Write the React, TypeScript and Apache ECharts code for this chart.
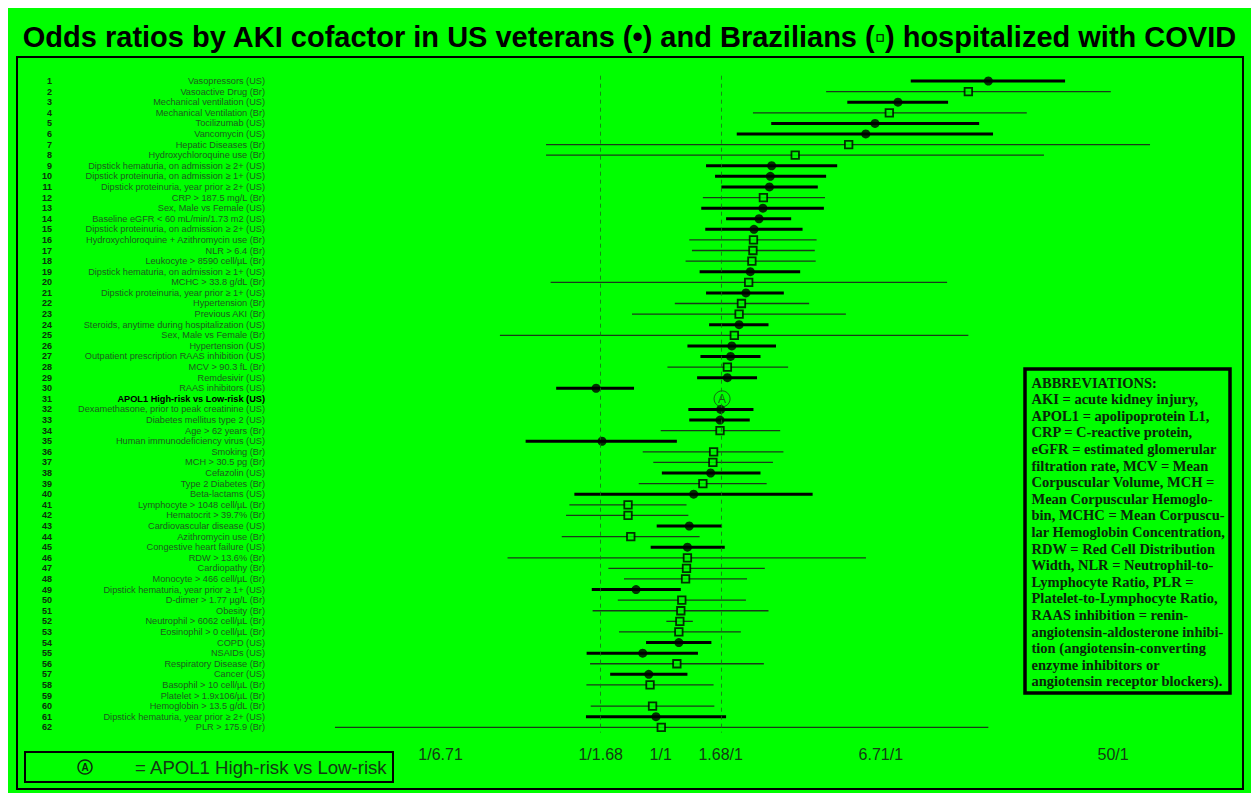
import React, { useEffect, useRef } from 'react';
import * as echarts from 'echarts';

// ---------- DATA ----------
const rowLabels: string[] = [
  'Vasopressors (US)',
  'Vasoactive Drug (Br)',
  'Mechanical ventilation (US)',
  'Mechanical Ventilation (Br)',
  'Tocilizumab (US)',
  'Vancomycin (US)',
  'Hepatic Diseases (Br)',
  'Hydroxychloroquine use (Br)',
  'Dipstick hematuria, on admission ≥ 2+ (US)',
  'Dipstick proteinuria, on admission ≥ 1+ (US)',
  'Dipstick proteinuria, year prior ≥ 2+ (US)',
  'CRP > 187.5 mg/L (Br)',
  'Sex, Male vs Female (US)',
  'Baseline eGFR < 60 mL/min/1.73 m2 (US)',
  'Dipstick proteinuria, on admission ≥ 2+ (US)',
  'Hydroxychloroquine + Azithromycin use (Br)',
  'NLR > 6.4 (Br)',
  'Leukocyte > 8590 cell/µL (Br)',
  'Dipstick hematuria, on admission ≥ 1+ (US)',
  'MCHC > 33.8 g/dL (Br)',
  'Dipstick proteinuria, year prior ≥ 1+ (US)',
  'Hypertension (Br)',
  'Previous AKI (Br)',
  'Steroids, anytime during hospitalization (US)',
  'Sex, Male vs Female (Br)',
  'Hypertension (US)',
  'Outpatient prescription RAAS inhibition (US)',
  'MCV > 90.3 fL (Br)',
  'Remdesivir (US)',
  'RAAS inhibitors (US)',
  'APOL1 High-risk vs Low-risk (US)',
  'Dexamethasone, prior to peak creatinine (US)',
  'Diabetes mellitus type 2 (US)',
  'Age > 62 years (Br)',
  'Human immunodeficiency virus (US)',
  'Smoking (Br)',
  'MCH > 30.5 pg (Br)',
  'Cefazolin (US)',
  'Type 2 Diabetes (Br)',
  'Beta-lactams (US)',
  'Lymphocyte > 1048 cell/µL (Br)',
  'Hematocrit > 39.7% (Br)',
  'Cardiovascular disease (US)',
  'Azithromycin use (Br)',
  'Congestive heart failure (US)',
  'RDW > 13.6% (Br)',
  'Cardiopathy (Br)',
  'Monocyte > 466 cell/µL (Br)',
  'Dipstick hematuria, year prior ≥ 1+ (US)',
  'D-dimer > 1.77 µg/L (Br)',
  'Obesity (Br)',
  'Neutrophil > 6062 cell/µL (Br)',
  'Eosinophil > 0 cell/µL (Br)',
  'COPD (US)',
  'NSAIDs (US)',
  'Respiratory Disease (Br)',
  'Cancer (US)',
  'Basophil > 10 cell/µL (Br)',
  'Platelet > 1.9x106/µL (Br)',
  'Hemoglobin > 13.5 g/dL (Br)',
  'Dipstick hematuria, year prior ≥ 2+ (US)',
  'PLR > 175.9 (Br)',
];

const oddsRatio: (number | null)[] = [
  17.0, 14.3, 7.78, 7.22, 6.38, 5.89, 5.08, 3.20, 2.61, 2.58,
  2.56, 2.43, 2.42, 2.34, 2.24, 2.23, 2.22, 2.20, 2.17, 2.14,
  2.09, 2.01, 1.97, 1.97, 1.89, 1.85, 1.83, 1.78, 1.78, 0.572,
  1.70, 1.68, 1.67, 1.67, 0.602, 1.58, 1.57, 1.54, 1.44, 1.33,
  0.754, 0.754, 1.28, 0.772, 1.26, 1.26, 1.25, 1.24, 0.808, 1.20,
  1.19, 1.18, 1.17, 1.17, 0.856, 1.15, 0.902, 0.912, null, 0.932,
  0.960, 1.005,
];

const ciLower: (number | null)[] = [
  8.69, 4.18, 5.02, 2.22, 2.60, 1.93, 0.371, 0.371, 1.48, 1.60,
  1.69, 1.44, 1.42, 1.76, 1.47, 1.28, 1.31, 1.24, 1.40, 0.386,
  1.48, 1.13, 0.780, 1.52, 0.249, 1.26, 1.41, 1.06, 1.37, 0.405,
  null, 1.27, 1.28, 1.00, 0.311, 0.856, 0.938, 1.01, 0.827, 0.474,
  0.454, 0.441, 0.966, 0.425, 0.917, 0.266, 0.636, 0.728, 0.551, 0.690,
  0.555, 1.05, 0.697, 0.881, 0.527, 0.543, 0.646, 0.526, null, 0.546,
  0.524, 0.0598,
];

const ciUpper: (number | null)[] = [
  33.0, 49.0, 12.0, 23.7, 15.7, 17.7, 68.8, 27.5, 4.60, 4.18,
  3.89, 4.14, 4.10, 3.09, 3.41, 3.85, 3.79, 3.82, 3.34, 11.9,
  2.90, 3.61, 4.96, 2.54, 14.3, 2.71, 2.37, 3.01, 2.30, 0.794,
  null, 2.23, 2.16, 2.81, 1.15, 2.89, 2.64, 2.37, 2.50, 3.72,
  1.25, 1.27, 1.70, 1.40, 1.74, 5.90, 2.46, 2.11, 1.19, 2.09,
  2.54, 1.32, 2.00, 1.55, 1.38, 2.44, 1.26, 1.58, null, 1.59,
  1.76, 17.0,
];

const apolRowIndex = 30;
const tickValues = [1 / 6.71, 1 / 1.68, 1, 1.68, 6.71, 50];
const tickLabels = ['1/6.71', '1/1.68', '1/1', '1.68/1', '6.71/1', '50/1'];
const referenceLines = [1 / 1.68, 1.68];

const titleText =
  'Odds ratios by AKI cofactor in US veterans (•) and Brazilians (▫) hospitalized with COVID';
const legendText = '= APOL1 High-risk vs Low-risk';
const abbreviationLines = [
  'ABBREVIATIONS:',
  'AKI = acute kidney injury,',
  'APOL1 = apolipoprotein L1,',
  'CRP = C-reactive protein,',
  'eGFR = estimated glomerular',
  'filtration rate, MCV = Mean',
  'Corpuscular Volume, MCH =',
  'Mean Corpuscular Hemoglo-',
  'bin, MCHC = Mean Corpuscu-',
  'lar Hemoglobin Concentration,',
  'RDW = Red Cell Distribution',
  'Width, NLR = Neutrophil-to-',
  'Lymphocyte Ratio, PLR =',
  'Platelet-to-Lymphocyte Ratio,',
  'RAAS inhibition = renin-',
  'angiotensin-aldosterone inhibi-',
  'tion (angiotensin-converting',
  'enzyme inhibitors or',
  'angiotensin receptor blockers).',
];

// ---------- LAYOUT ----------
const W = 1243;
const H = 785;
const GRID_LEFT = 262;
const GRID_RIGHT = 11;
const GRID_TOP = 67.7;
const GRID_BOTTOM = 60.4;
const X_ONE = 652.7; // pixel of OR = 1
const PX_PER_LN = 115.65;
const X_MIN = (GRID_LEFT - X_ONE) / PX_PER_LN;
const X_MAX = (W - GRID_RIGHT - X_ONE) / PX_PER_LN;

const SANS = '"Liberation Sans", Arial, "DejaVu Sans", sans-serif';
const SERIF = '"Liberation Serif", "Times New Roman", "DejaVu Serif", serif';
const GREEN = '#00ff00';

function buildOption() {
  const ln = Math.log;
  const usCI: number[][] = [];
  const brCI: number[][] = [];
  const usPts: number[][] = [];
  const brPts: number[][] = [];
  const apolPts: number[][] = [];

  rowLabels.forEach((label, i) => {
    const or = oddsRatio[i];
    if (or == null) return;
    if (i === apolRowIndex) {
      apolPts.push([ln(or), i]);
      return;
    }
    const isUS = label.endsWith('(US)');
    const lo = ciLower[i];
    const hi = ciUpper[i];
    if (lo != null && hi != null) {
      (isUS ? usCI : brCI).push([ln(lo), ln(hi), i]);
    }
    (isUS ? usPts : brPts).push([ln(or), i]);
  });

  const ciRenderer = (width: number, color: string) => (params: any, api: any) => {
    const a = api.coord([api.value(0), api.value(2)]);
    const b = api.coord([api.value(1), api.value(2)]);
    return {
      type: 'line',
      shape: { x1: a[0], y1: a[1], x2: b[0], y2: b[1] },
      style: { stroke: color, lineWidth: width },
    };
  };

  const tickLn = tickValues.map((v) => ln(v));

  return {
    animation: false,
    backgroundColor: GREEN,
    grid: {
      left: GRID_LEFT,
      right: GRID_RIGHT,
      top: GRID_TOP,
      bottom: GRID_BOTTOM,
      containLabel: false,
    },
    xAxis: {
      type: 'value',
      min: X_MIN,
      max: X_MAX,
      axisLine: { show: false },
      axisTick: { show: false },
      splitLine: { show: false },
      axisLabel: {
        customValues: tickLn,
        margin: 14,
        fontSize: 16,
        fontFamily: SANS,
        color: '#153a15',
        formatter: (v: number) => {
          const idx = tickLn.findIndex((t) => Math.abs(t - v) < 1e-6);
          return idx >= 0 ? tickLabels[idx] : '';
        },
      },
    },
    yAxis: {
      type: 'category',
      inverse: true,
      data: rowLabels,
      axisLine: { show: false },
      axisTick: { show: false },
      splitLine: { show: false },
      axisLabel: {
        interval: 0,
        margin: 5,
        formatter: (value: string, index: number) =>
          index === apolRowIndex
            ? `{nb|${index + 1}}{tb|${value}}`
            : `{n|${index + 1}}{t|${value}}`,
        rich: {
          n: { width: 12, align: 'right', fontSize: 9, fontWeight: 'bold', fontFamily: SANS, color: '#0d300d' },
          nb: { width: 12, align: 'right', fontSize: 9, fontWeight: 'bold', fontFamily: SANS, color: '#0d300d' },
          t: { width: 213, align: 'right', fontSize: 9.2, fontFamily: SANS, color: '#1f5a1f' },
          tb: { width: 213, align: 'right', fontSize: 9.2, fontWeight: 'bold', fontFamily: SANS, color: '#000' },
        },
      },
    },
    graphic: [
      {
        type: 'text',
        x: W / 2,
        y: 29,
        style: {
          text: titleText,
          font: `bold 29px ${SANS}`,
          fill: '#000',
          align: 'center',
          verticalAlign: 'middle',
        },
      },
      {
        type: 'rect',
        shape: { x: 9, y: 49, width: 1226, height: 732 },
        style: { fill: 'none', stroke: '#000', lineWidth: 2 },
        silent: true,
      },
      {
        type: 'rect',
        shape: { x: 1017, y: 361, width: 205, height: 324 },
        style: { fill: 'none', stroke: '#000', lineWidth: 3.5 },
        silent: true,
      },
      {
        type: 'text',
        x: 1023.5,
        y: 366.4,
        style: {
          text: abbreviationLines.join('\n'),
          font: `bold 14.5px ${SERIF}`,
          lineHeight: 16.6,
          fill: '#0a250a',
          align: 'left',
          verticalAlign: 'top',
        },
      },
      {
        type: 'rect',
        shape: { x: 17, y: 744, width: 368, height: 30 },
        style: { fill: 'none', stroke: '#000', lineWidth: 2 },
        silent: true,
      },
      {
        type: 'circle',
        shape: { cx: 77, cy: 759, r: 7 },
        style: { fill: 'none', stroke: '#0d2d0d', lineWidth: 1.5 },
      },
      {
        type: 'text',
        x: 77,
        y: 759.5,
        style: {
          text: 'A',
          font: `bold 10px ${SANS}`,
          fill: '#0d2d0d',
          align: 'center',
          verticalAlign: 'middle',
        },
      },
      {
        type: 'text',
        x: 127,
        y: 759,
        style: {
          text: legendText,
          font: `18.6px ${SANS}`,
          fill: '#143814',
          align: 'left',
          verticalAlign: 'middle',
        },
      },
    ],
    series: [
      {
        type: 'custom',
        name: 'Brazil CI',
        data: brCI,
        encode: { x: [0, 1], y: 2 },
        renderItem: ciRenderer(1.3, '#1a3a1a'),
        z: 2,
      },
      {
        type: 'custom',
        name: 'US CI',
        data: usCI,
        encode: { x: [0, 1], y: 2 },
        renderItem: ciRenderer(3, '#000'),
        z: 2,
      },
      {
        type: 'scatter',
        name: 'US veterans',
        data: usPts,
        symbol: 'circle',
        symbolSize: 9,
        itemStyle: { color: '#000' },
        z: 4,
        markLine: {
          silent: true,
          symbol: 'none',
          label: { show: false },
          lineStyle: { color: '#1a6a1a', width: 0.8, type: [4, 4] },
          data: referenceLines.map((v) => ({ xAxis: ln(v) })),
        },
      },
      {
        type: 'scatter',
        name: 'Brazilians',
        data: brPts,
        symbol: 'rect',
        symbolSize: 7.5,
        itemStyle: { color: GREEN, borderColor: '#000', borderWidth: 1.8 },
        z: 4,
      },
      {
        type: 'scatter',
        name: 'APOL1',
        data: apolPts,
        symbol: 'circle',
        symbolSize: 16,
        itemStyle: { color: 'rgba(0,0,0,0)', borderColor: '#1a3d1a', borderWidth: 1 },
        label: {
          show: true,
          position: 'inside',
          formatter: 'A',
          fontSize: 12,
          fontFamily: SANS,
          color: '#1a3d1a',
        },
        z: 4,
      },
    ],
  };
}

export default function App() {
  const ref = useRef<HTMLDivElement>(null);
  useEffect(() => {
    if (!ref.current) return;
    const chart = echarts.init(ref.current, undefined, { renderer: 'svg' });
    chart.setOption(buildOption() as any);
    return () => chart.dispose();
  }, []);
  return (
    <div
      ref={ref}
      style={{ position: 'absolute', left: 8, top: 8, width: W, height: H, background: GREEN }}
    />
  );
}
